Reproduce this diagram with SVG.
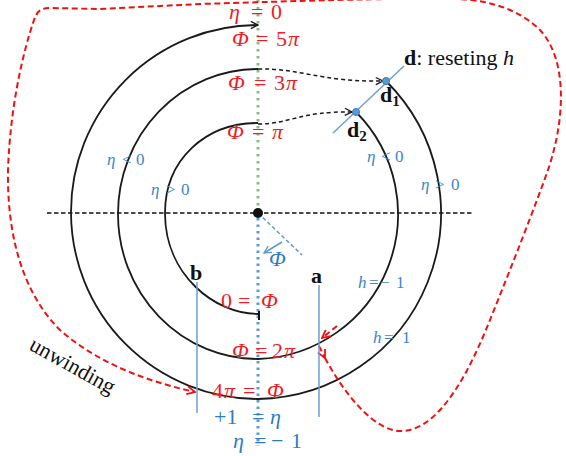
<svg xmlns="http://www.w3.org/2000/svg" width="566" height="456" viewBox="0 0 566 456">
<style>
.arc{fill:none;stroke:#1a1a1a;stroke-width:1.8}
.red{fill:none;stroke:#ee1111;stroke-width:2;stroke-dasharray:6 3.5}
.bdash{fill:none;stroke:#1a1a1a;stroke-width:1.5;stroke-dasharray:4 3}
.rt{font-family:"Liberation Serif",serif;font-size:22px;fill:#ee1c24}
.bt{font-family:"Liberation Serif",serif;font-size:22px;fill:#2e7bc4}
.st{font-family:"Liberation Serif",serif;font-size:17px;fill:#3c86c6}
.bl{font-family:"Liberation Serif",serif;font-size:22px;fill:#111}
.i{font-style:italic}
.b{font-weight:bold}
.bline{stroke:#6a9fd4;stroke-width:1.5;fill:none}
.dot{fill:#5b9bd5;stroke:#3a75b0;stroke-width:1}
</style>
<defs>
<marker id="ak" viewBox="0 0 10 10" refX="9" refY="5" markerWidth="9" markerHeight="9" markerUnits="userSpaceOnUse" orient="auto"><path d="M1,1 L9,5 L1,9" fill="none" stroke="#1a1a1a" stroke-width="1.5"/></marker>
<marker id="ar" viewBox="0 0 10 10" refX="9" refY="5" markerWidth="10" markerHeight="10" markerUnits="userSpaceOnUse" orient="auto"><path d="M1,1 L9,5 L1,9" fill="none" stroke="#ee1111" stroke-width="1.8"/></marker>
<marker id="ab" viewBox="0 0 10 10" refX="9" refY="5" markerWidth="9" markerHeight="9" markerUnits="userSpaceOnUse" orient="auto"><path d="M1,1 L9,5 L1,9" fill="none" stroke="#5b9bd5" stroke-width="1.5"/></marker>
</defs>

<g id="axes">
<path d="M47,213 L472,213" fill="none" stroke="#111" stroke-width="1.5" stroke-dasharray="4.5 2.5"/>
<path d="M258,0 L258,209" fill="none" stroke="#8fb98a" stroke-width="3" stroke-dasharray="2.5 4.5"/>
<path d="M258,218 L258,446" fill="none" stroke="#5b9bd5" stroke-width="3" stroke-dasharray="2.5 4"/>
</g>

<g id="spiral">
<path class="arc" d="M258,314 C215,314 165,275 165,213 C165,160 205,123 258,123"/>
<path class="arc" d="M258,359 A140,145 0 0 1 258,69"/>
<path class="arc" d="M356,112 A145,145 0 0 1 258,359"/>
<path class="arc" d="M386,81 A186,186 0 0 1 258,399"/>
<path class="arc" d="M258,399 A187,187 0 0 1 258,25" marker-end="url(#ak)"/>
<path d="M259,311 L259,320" stroke="#111" stroke-width="2"/>
</g>

<g id="connectors">
<path class="bdash" d="M258,69 C300,68 320,82 383,81" marker-end="url(#ak)"/>
<path class="bdash" d="M258,124 C290,124 300,111 352,112" marker-end="url(#ak)"/>
<path class="red" d="M325,358 C345,395 375,432 402,431 C440,430 470,370 490,320 C510,270 530,220 548,170 C565,120 568,60 540,30 C520,10 490,0 457,-1 C380,-2 300,1 200,4 L100,9 L50,8 C40,8 37,12 34,20 C22,55 10,110 8,170 C7,230 20,290 60,330 C100,365 150,382 195,392" marker-end="url(#ar)"/>
<path class="red" d="M319,346 L325,358" marker-end="url(#ar)"/>
<path class="red" d="M337,326 L322,338" marker-end="url(#ar)"/>
<path d="M258,213 L302,255" fill="none" stroke="#5b9bd5" stroke-width="1.5" stroke-dasharray="4 2.5"/>
<path d="M282,242 L264,253" fill="none" stroke="#5b9bd5" stroke-width="1.5" marker-end="url(#ab)"/>
</g>

<g id="center"><circle cx="258" cy="213" r="5" fill="#111"/></g>

<g id="d-line">
<path class="bline" d="M333,133 L404,66"/>
<circle class="dot" cx="356" cy="112" r="3.5"/>
<circle class="dot" cx="386" cy="81" r="3.5"/>
<text class="bl" x="404" y="65" font-size="24"><tspan class="b">d</tspan>: reseting <tspan class="i">h</tspan></text>
</g>
<g id="d1"><text class="bl b" x="380" y="102">d<tspan font-size="15" dy="4">1</tspan></text></g>
<g id="d2"><text class="bl b" x="347" y="137">d<tspan font-size="15" dy="4">2</tspan></text></g>

<g id="b-line"><path class="bline" d="M197,282 L197,413"/><text class="bl b" x="190" y="280">b</text></g>
<g id="a-line"><path class="bline" d="M319,285 L319,417"/><text class="bl b" x="311" y="283">a</text></g>

<g id="red-labels">
<text class="rt"><tspan class="i" x="229" y="19">η</tspan><tspan x="251" y="19">=</tspan><tspan x="271" y="19">0</tspan></text>
<text class="rt"><tspan class="i" x="232" y="46">Φ</tspan><tspan x="256" y="46">=</tspan><tspan x="276" y="46">5</tspan><tspan class="i" x="288" y="46">π</tspan></text>
<text class="rt"><tspan class="i" x="228" y="90">Φ</tspan><tspan x="254" y="90">=</tspan><tspan x="274" y="90">3</tspan><tspan class="i" x="286" y="90">π</tspan></text>
<text class="rt"><tspan class="i" x="227" y="139">Φ</tspan><tspan x="252" y="139">=</tspan><tspan class="i" x="272" y="139">π</tspan></text>
<text class="rt"><tspan x="221" y="308">0</tspan><tspan x="238" y="308">=</tspan><tspan class="i" x="261" y="308">Φ</tspan></text>
<text class="rt"><tspan class="i" x="232" y="358">Φ</tspan><tspan x="255" y="358">=</tspan><tspan x="272" y="358">2</tspan><tspan class="i" x="284" y="358">π</tspan></text>
<text class="rt"><tspan x="212" y="398">4</tspan><tspan class="i" x="224" y="398">π</tspan><tspan x="243" y="398">=</tspan><tspan class="i" x="267" y="398">Φ</tspan></text>
</g>

<g id="blue-labels">
<text class="bt"><tspan x="214" y="424">+1</tspan><tspan x="252" y="424">=</tspan><tspan class="i" x="270" y="424">η</tspan></text>
<text class="bt"><tspan class="i" x="233" y="448">η</tspan><tspan x="254" y="448">=</tspan><tspan x="271" y="448">−</tspan><tspan x="291" y="448">1</tspan></text>
<text class="bt i" x="269" y="266">Φ</text>
<text class="st"><tspan class="i" x="107" y="165">η</tspan><tspan x="122" y="165">&lt;</tspan><tspan x="136" y="165">0</tspan></text>
<text class="st"><tspan class="i" x="151" y="195">η</tspan><tspan x="166" y="195">&gt;</tspan><tspan x="181" y="195">0</tspan></text>
<text class="st"><tspan class="i" x="367" y="162">η</tspan><tspan x="381" y="162">&lt;</tspan><tspan x="395" y="162">0</tspan></text>
<text class="st"><tspan class="i" x="421" y="190">η</tspan><tspan x="435" y="190">&gt;</tspan><tspan x="451" y="190">0</tspan></text>
<text class="st"><tspan class="i" x="358" y="288">h</tspan><tspan x="369" y="288">=</tspan><tspan x="380" y="288">−</tspan><tspan x="396" y="288">1</tspan></text>
<text class="st"><tspan class="i" x="373" y="343">h</tspan><tspan x="384" y="343">=</tspan><tspan x="402" y="343">1</tspan></text>
</g>

<g id="unwinding"><text class="bl" font-size="23" transform="translate(28,349) rotate(29)">unwinding</text></g>
</svg>
